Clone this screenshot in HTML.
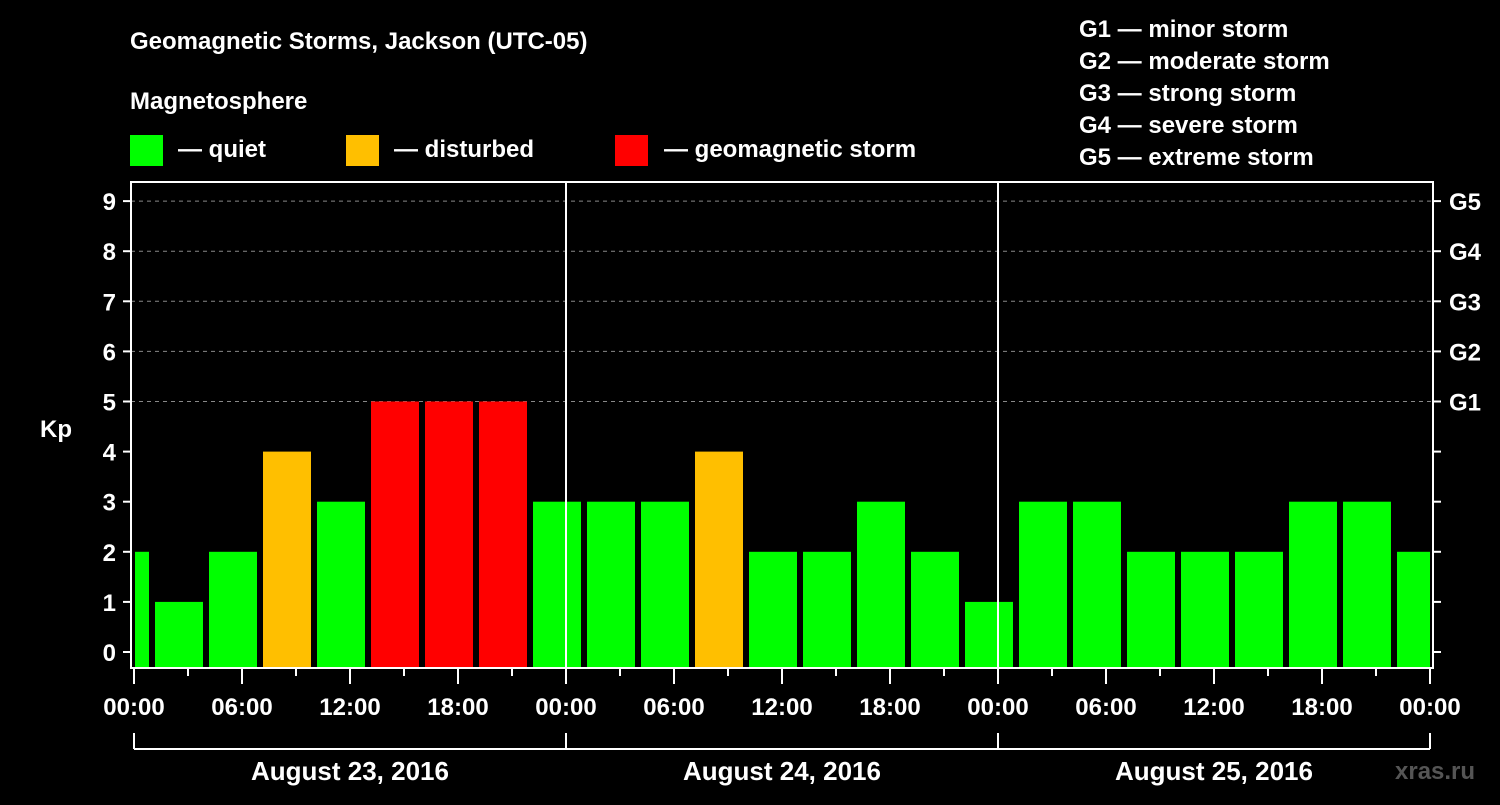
<!DOCTYPE html>
<html><head><meta charset="utf-8"><style>
body{margin:0;background:#000;width:1500px;height:800px;overflow:hidden}
svg text{font-family:"Liberation Sans",sans-serif;font-weight:bold;fill:#fff}
</style></head><body>
<svg id="c" width="1500" height="800">
<text x="130" y="49" font-size="24">Geomagnetic Storms, Jackson (UTC-05)</text>
<text x="130" y="109" font-size="24">Magnetosphere</text>
<g><rect x="130" y="135" width="33" height="31" fill="#00ff00"/><text x="178" y="157" font-size="24">— quiet</text></g>
<g><rect x="346" y="135" width="33" height="31" fill="#ffbf00"/><text x="394" y="157" font-size="24">— disturbed</text></g>
<g><rect x="615" y="135" width="33" height="31" fill="#ff0000"/><text x="664" y="157" font-size="24">— geomagnetic storm</text></g>
<g font-size="24">
<text x="1079" y="37">G1 — minor storm</text>
<text x="1079" y="69">G2 — moderate storm</text>
<text x="1079" y="101">G3 — strong storm</text>
<text x="1079" y="133">G4 — severe storm</text>
<text x="1079" y="165">G5 — extreme storm</text>
</g>
<text x="40" y="437" font-size="24">Kp</text>
<text x="1395" y="779" font-size="24" fill="#555" style="fill:#555">xras.ru</text>
<g id="g"></g>
</svg>
<script>
const values=[2,1,2,4,3,5,5,5,3,3,3,4,2,2,3,2,1,3,3,2,2,2,3,3,2];
const startHours=[-2,1,4,7,10,13,16,19,22,25,28,31,34,37,40,43,46,49,52,55,58,61,64,67,70];
const dates=["August 23, 2016","August 24, 2016","August 25, 2016"];
const timeLabels=["00:00","06:00","12:00","18:00"];
const gLabels=["G1","G2","G3","G4","G5"];
const X0=134,PX_H=18,Y0=652,PX_K=50.1,L=131,R=1433,T=182,B=668;
const x=h=>X0+h*PX_H, y=k=>Y0-k*PX_K;
const g=document.getElementById('g'),NS='http://www.w3.org/2000/svg';
function mk(t,a,txt){const e=document.createElementNS(NS,t);for(const k in a)e.setAttribute(k,a[k]);if(txt!==undefined)e.textContent=txt;g.appendChild(e);return e;}
for(let k=5;k<=9;k++){const e=mk('line',{x1:L,x2:R,y1:y(k),y2:y(k),stroke:'#888','stroke-dasharray':'4,4','stroke-width':1});

}
values.forEach((v,i)=>{const h0=startHours[i];let a=Math.max(x(h0)+3,L+4),b=Math.min(x(h0+3)-3,R-3);
const col=v>=5?'#ff0000':v>=4?'#ffbf00':'#00ff00';
const e=mk('rect',{x:a,y:y(v),width:b-a,height:B-y(v),fill:col});

});
const f=mk('rect',{x:L,y:T,width:R-L,height:B-T,fill:'none',stroke:'#fff','stroke-width':2});


for(let d=1;d<3;d++){const e=mk('line',{x1:x(24*d),x2:x(24*d),y1:T,y2:B,stroke:'#fff','stroke-width':2});

}
for(let k=0;k<=9;k++){mk('line',{x1:L-8,x2:L,y1:y(k),y2:y(k),stroke:'#fff','stroke-width':2});
mk('line',{x1:R,x2:R+8,y1:y(k),y2:y(k),stroke:'#fff','stroke-width':2});
const t=mk('text',{x:L-15,y:y(k)+9,'font-size':24,'text-anchor':'end'},String(k));

}
gLabels.forEach((s,i)=>{const t=mk('text',{x:1449,y:y(5+i)+9,'font-size':24},s);

});
for(let h=0;h<=72;h+=3){mk('line',{x1:x(h),x2:x(h),y1:B,y2:h%6?B+8:B+16,stroke:'#fff','stroke-width':2});}
for(let h=0;h<=72;h+=6){const t=mk('text',{x:x(h),y:715,'font-size':24,'text-anchor':'middle'},timeLabels[(h/6)%4]);

}
mk('line',{x1:x(0),x2:x(72),y1:749,y2:749,stroke:'#fff','stroke-width':2});
for(let d=0;d<=3;d++)mk('line',{x1:x(24*d),x2:x(24*d),y1:733,y2:749,stroke:'#fff','stroke-width':2});
dates.forEach((s,i)=>{const t=mk('text',{x:x(24*i+12),y:780,'font-size':26,'text-anchor':'middle'},s);

});
</script>
</body></html>
